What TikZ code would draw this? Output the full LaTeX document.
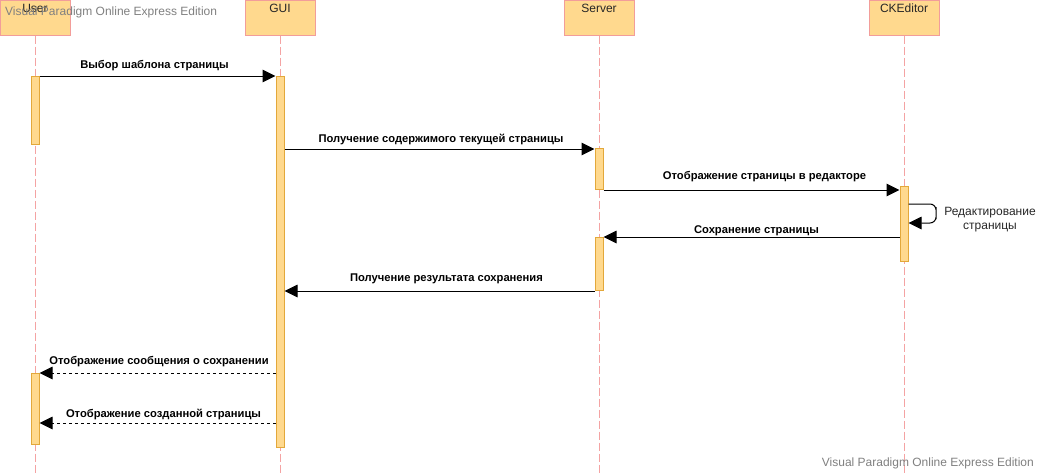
\documentclass[tikz,border=0pt]{standalone}
\usepackage{fontspec}
\setmainfont{Liberation Sans}
\usetikzlibrary{arrows.meta}
\definecolor{boxfill}{HTML}{FFD98E}
\definecolor{boxline}{HTML}{F29D9A}
\definecolor{actline}{HTML}{E3A83A}
\definecolor{lifecol}{HTML}{F4A3A3}
\definecolor{wmark}{HTML}{808080}
\tikzset{
  actorbox/.style={draw=boxline, fill=boxfill, line width=1pt, minimum width=70pt, minimum height=35pt, inner sep=0pt},
  actortext/.style={font=\fontsize{12}{14}\selectfont, text=black!85, inner sep=0pt},
  lifeline/.style={draw=lifecol, line width=0.9pt, dash pattern=on 8pt off 3pt},
  actbar/.style={draw=actline, fill=boxfill, line width=1pt, minimum width=8pt, inner sep=0pt, anchor=north},
  msg/.style={draw=black, line width=1pt, -{Triangle[length=13pt,width=12.5pt]}},
  ret/.style={msg, dash pattern=on 3pt off 3pt},
  msglabel/.style={font=\fontsize{11.2}{13}\selectfont\bfseries, inner sep=0pt, text=black},
  wm/.style={font=\fontsize{12}{14}\selectfont, text=wmark, inner sep=0pt}
}
\begin{document}
\begin{tikzpicture}[x=1pt,y=-1pt]
\useasboundingbox (0,0) rectangle (1040,474);
% actors
\node[actorbox] (user) at (35,17.5) {};
\node[actorbox] (gui) at (280,17.5) {};
\node[actorbox] (server) at (599,17.5) {};
\node[actorbox] (cke) at (904,17.5) {};
\node[actortext] (tuser) at (35,8) {User};
\node[actortext] (tgui) at (280,8) {GUI};
\node[actortext] (tserver) at (599,8) {Server};
\node[actortext] (tcke) at (904,8) {CKEditor};
% lifelines
\coordinate (ubot) at (35,474);
\coordinate (gbot) at (280,474);
\coordinate (sbot) at (599,474);
\coordinate (cbot) at (904,474);
\draw[lifeline] (user.south) -- (ubot);
\draw[lifeline] (gui.south) -- (gbot);
\draw[lifeline] (server.south) -- (sbot);
\draw[lifeline] (cke.south) -- (cbot);
% activation bars
\node[actbar, minimum height=68pt] (ua1) at (35,76) {};
\node[actbar, minimum height=71pt] (ua2) at (35,373) {};
\node[actbar, minimum height=371pt] (ga1) at (280,76) {};
\node[actbar, minimum height=41pt] (sa1) at (599,148) {};
\node[actbar, minimum height=53pt] (sa2) at (599,237) {};
\node[actbar, minimum height=75pt] (ca1) at (904,186) {};
% anchor coordinates
\coordinate (y149) at (0,149);
\coordinate (y204) at (0,204);
\coordinate (y223) at (0,223);
\coordinate (y237) at (0,237);
\coordinate (y373) at (0,373);
\coordinate (y423) at (0,423);
% messages
\draw[msg] (ua1.north east) -- (ga1.north west);
\node[msglabel] (l1) at (154.5,66) {Выбор шаблона страницы};
\draw[msg] (ga1.east |- y149) -- (sa1.west |- y149);
\node[msglabel] (l2) at (441,139) {Получение содержимого текущей страницы};
\draw[msg] (sa1.south east) -- (ca1.west |- sa1.south);
\node[msglabel] (l3) at (764.5,177) {Отображение страницы в редакторе};
\draw[msg, rounded corners=6pt] (ca1.east |- y204) -| (936,213) |- (ca1.east |- y223);
\node[font=\fontsize{12}{14}\selectfont, align=center, inner sep=0pt, text=black!85] (l4) at (990,219.5) {Редактирование\\страницы};
\draw[msg] (ca1.west |- y237) -- (sa2.north east);
\node[msglabel] (l5) at (756.5,231) {Сохранение страницы};
\draw[msg] (sa2.south west) -- (ga1.east |- sa2.south);
\node[msglabel] (l6) at (446.5,279) {Получение результата сохранения};
\draw[ret] (ga1.west |- y373) -- (ua2.north east);
\node[msglabel] (l7) at (159,362) {Отображение сообщения о сохранении};
\draw[ret] (ga1.west |- y423) -- (ua2.east |- y423);
\node[msglabel] (l8) at (163.5,414) {Отображение созданной страницы};
% watermarks
\node[wm, anchor=west] (wm1) at (5,12) {Visual Paradigm Online Express Edition};
\node[wm, anchor=east] (wm2) at (1034,463) {Visual Paradigm Online Express Edition};
\end{tikzpicture}
\end{document}
